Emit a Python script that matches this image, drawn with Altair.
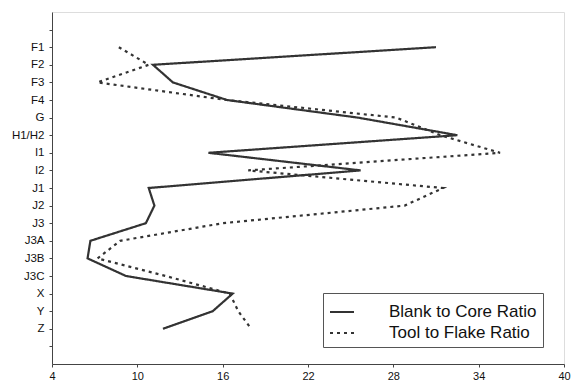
import altair as alt
import pandas as pd

categories = ["F1", "F2", "F3", "F4", "G", "H1/H2", "I1", "I2", "J1", "J2",
              "J3", "J3A", "J3B", "J3C", "X", "Y", "Z"]
blank_to_core = [31.0, 11.1, 12.5, 16.3, 25.5, 32.5, 15.0, 25.7, 10.8, 11.2,
                 10.6, 6.7, 6.5, 9.2, 16.7, 15.3, 11.8]
tool_to_flake = [8.7, 10.8, 7.2, 16.3, 28.2, 31.3, 35.5, 17.8, 31.5, 28.8,
                 16.0, 8.8, 7.2, 12.0, 16.5, 17.1, 18.0]
x_ticks = [4, 10, 16, 22, 28, 34, 40]
series_names = ["Blank to Core Ratio", "Tool to Flake Ratio"]

n = len(categories)
rows = []
for i, c in enumerate(categories):
    pos = n + 1 - i  # F1 -> 18, Z -> 2
    rows.append({"cat": c, "pos": pos, "order": i, "value": blank_to_core[i], "series": series_names[0]})
    rows.append({"cat": c, "pos": pos, "order": i, "value": tool_to_flake[i], "series": series_names[1]})
df = pd.DataFrame(rows)

# label lookup for y positions
label_list = ["''"] * 21
for i, c in enumerate(categories):
    label_list[n + 1 - i] = "'" + c + "'"
label_expr = "[" + ",".join(label_list) + "][datum.value]"

font = "Liberation Sans"

chart = alt.Chart(df).mark_line(strokeWidth=2.2, color="#333333").encode(
    x=alt.X("value:Q",
            scale=alt.Scale(domain=[4, 40], nice=False, zero=False),
            axis=alt.Axis(values=x_ticks, title=None, grid=False, tickSize=3,
                          labelFont=font, labelFontSize=11, labelColor="#111",
                          domainColor="#444", tickColor="#444", labelPadding=3,
                          labelFlush=False)),
    y=alt.Y("pos:Q",
            scale=alt.Scale(domain=[0, 20], nice=False, zero=False),
            axis=alt.Axis(values=list(range(1, 20)), labelExpr=label_expr, title=None,
                          grid=False, tickSize=3, labelFont=font, labelFontSize=11.5,
                          labelColor="#111", domainColor="#444", tickColor="#444",
                          labelPadding=5)),
    order=alt.Order("order:Q"),
    strokeDash=alt.StrokeDash(
        "series:N",
        scale=alt.Scale(domain=series_names, range=[[1, 0], [3, 4]]),
        legend=alt.Legend(title=None, orient="none", legendX=271, legendY=281,
                          strokeColor="#555", padding=6, symbolType="stroke",
                          symbolSize=576, symbolStrokeWidth=2, symbolStrokeColor="#333",
                          labelFont=font, labelFontSize=17, labelColor="#111",
                          labelOffset=34, rowPadding=0, labelLimit=300,
                          fillColor="white")),
).properties(
    width=512, height=352,
    padding={"left": 52, "top": 12, "right": 8, "bottom": 19},
    autosize=alt.AutoSizeParams(type="none"),
).configure_view(stroke=None).configure(background="white")

chart.save("out.html", embed_options={"renderer": "svg", "actions": False})
